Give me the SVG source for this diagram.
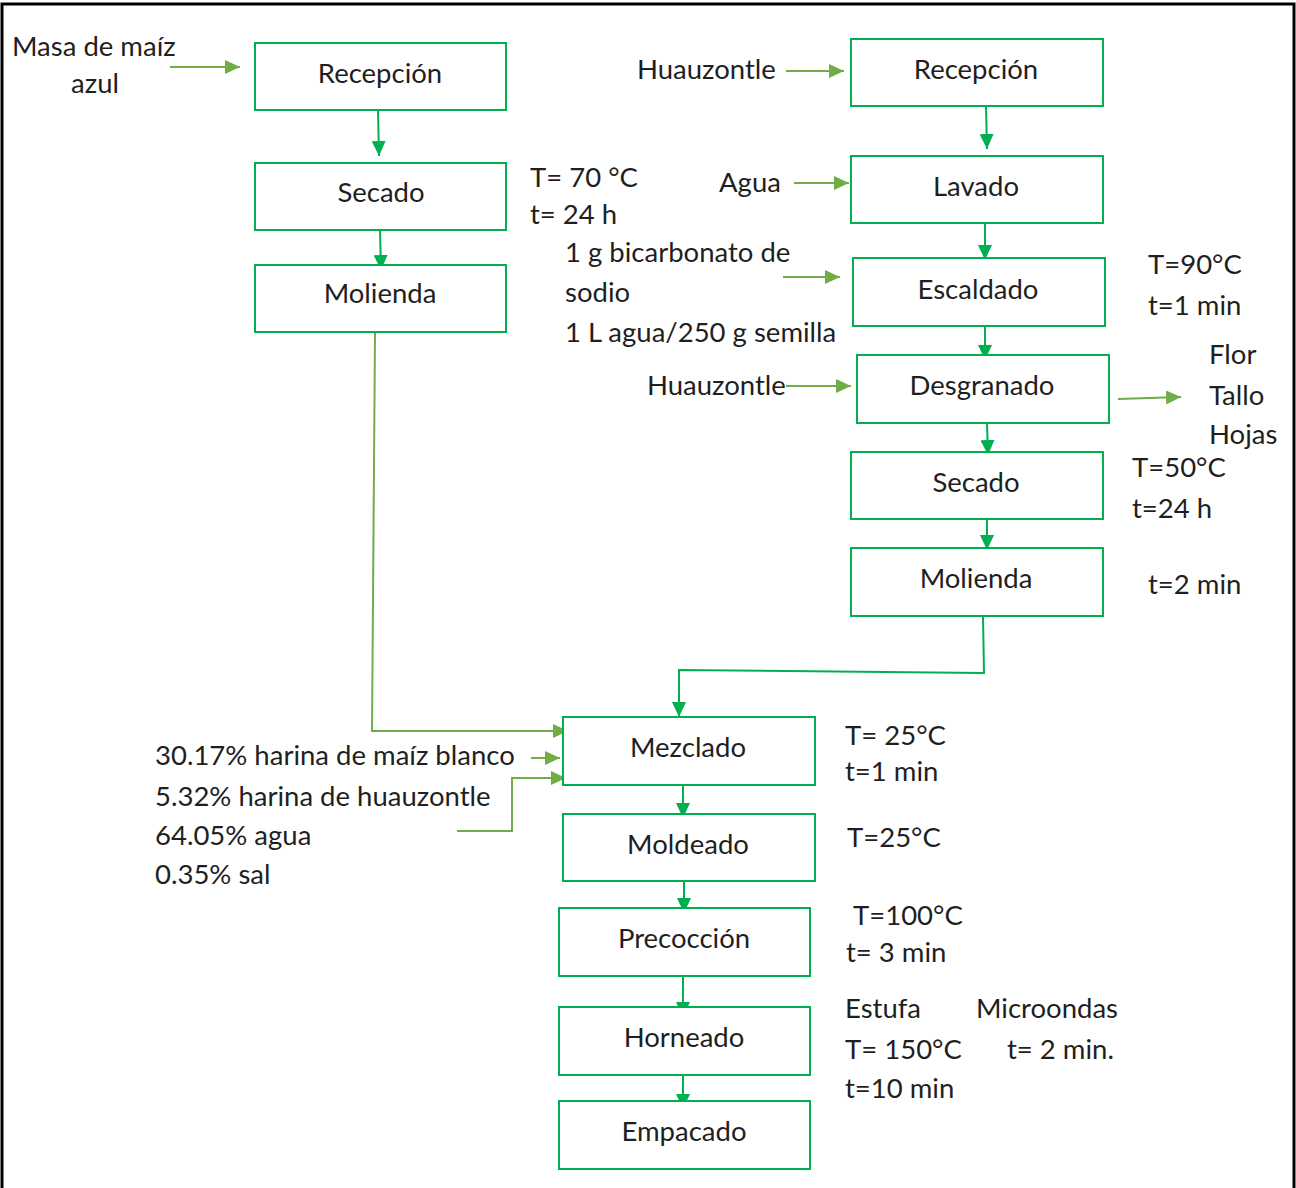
<svg xmlns="http://www.w3.org/2000/svg" width="1296" height="1188" viewBox="0 0 1296 1188">
  <defs>
    <style>
      .box { fill: #ffffff; stroke: #00B050; stroke-width: 2; }
      .lbl { font-family: Lato, "Liberation Sans", sans-serif; font-size: 27.5px; fill: #1f1f1f; }
      .mid { text-anchor: middle; }
      .flow { fill: none; stroke: #00B050; stroke-width: 2; marker-end: url(#headDark); }
      .feed { fill: none; stroke: #70AD47; stroke-width: 2; marker-end: url(#headLight); }
    </style>
    <marker id="headDark" markerUnits="userSpaceOnUse" markerWidth="16" markerHeight="14" refX="15" refY="7" orient="auto">
      <path d="M0,0 L15,7 L0,14 z" fill="#00B050"/>
    </marker>
    <marker id="headLight" markerUnits="userSpaceOnUse" markerWidth="16" markerHeight="14" refX="15" refY="7" orient="auto">
      <path d="M0,0 L15,7 L0,14 z" fill="#70AD47"/>
    </marker>
  </defs>

  <rect x="0" y="0" width="1296" height="1188" fill="#ffffff"/>
  <!-- outer frame -->
  <rect x="2" y="4" width="1292" height="1200" fill="none" stroke="#000000" stroke-width="3"/>

  <!-- connectors -->
  <g id="connectors">
    <!-- blue corn line -->
    <line class="flow" x1="378" y1="111" x2="379" y2="156"/>
    <line class="flow" x1="380" y1="231" x2="381" y2="270"/>
    <!-- huauzontle line -->
    <line class="flow" x1="986" y1="107" x2="987" y2="149"/>
    <line class="flow" x1="985" y1="224" x2="985" y2="260"/>
    <line class="flow" x1="985" y1="327" x2="985" y2="360"/>
    <line class="flow" x1="987" y1="424" x2="988" y2="455"/>
    <line class="flow" x1="987" y1="520" x2="987" y2="550"/>
    <polyline class="flow" points="983,617 984,673 679,670 679,717"/>
    <!-- bottom line -->
    <line class="flow" x1="683" y1="786" x2="683" y2="818"/>
    <line class="flow" x1="684" y1="882" x2="684" y2="913"/>
    <line class="flow" x1="683" y1="977" x2="683" y2="1017"/>
    <line class="flow" x1="683" y1="1076" x2="683" y2="1109"/>
    <!-- side feeds -->
    <line class="feed" x1="170" y1="67" x2="240" y2="67"/>
    <line class="feed" x1="786" y1="71" x2="844" y2="71"/>
    <line class="feed" x1="794" y1="183" x2="849" y2="183"/>
    <line class="feed" x1="783" y1="277" x2="840" y2="277"/>
    <line class="feed" x1="786" y1="386" x2="851" y2="386"/>
    <line class="feed" x1="1118" y1="399" x2="1181" y2="397"/>
    <polyline class="feed" points="375,333 372,731 568,731"/>
    <line class="feed" x1="531" y1="758" x2="560" y2="758"/>
    <polyline class="feed" points="457,831 512,831 512,778 566,778"/>
  </g>

  <!-- blue corn dough branch -->
  <g id="recepcion-masa"><rect class="box" x="255" y="43" width="251" height="67"/><text class="lbl mid" x="380" y="83">Recepción</text></g>
  <g id="secado-masa"><rect class="box" x="255" y="163" width="251" height="67"/><text class="lbl mid" x="381" y="202">Secado</text></g>
  <g id="molienda-masa"><rect class="box" x="255" y="265" width="251" height="67"/><text class="lbl mid" x="380" y="303">Molienda</text></g>

  <!-- huauzontle branch -->
  <g id="recepcion-huauzontle"><rect class="box" x="851" y="39" width="252" height="67"/><text class="lbl mid" x="976" y="79">Recepción</text></g>
  <g id="lavado"><rect class="box" x="851" y="156" width="252" height="67"/><text class="lbl mid" x="976" y="196">Lavado</text></g>
  <g id="escaldado"><rect class="box" x="853" y="258" width="252" height="68"/><text class="lbl mid" x="978" y="299">Escaldado</text></g>
  <g id="desgranado"><rect class="box" x="857" y="355" width="252" height="68"/><text class="lbl mid" x="982" y="395">Desgranado</text></g>
  <g id="secado-huauzontle"><rect class="box" x="851" y="452" width="252" height="67"/><text class="lbl mid" x="976" y="492">Secado</text></g>
  <g id="molienda-huauzontle"><rect class="box" x="851" y="548" width="252" height="68"/><text class="lbl mid" x="976" y="588">Molienda</text></g>

  <!-- final process -->
  <g id="mezclado"><rect class="box" x="563" y="717" width="252" height="68"/><text class="lbl mid" x="688" y="757">Mezclado</text></g>
  <g id="moldeado"><rect class="box" x="563" y="814" width="252" height="67"/><text class="lbl mid" x="688" y="854">Moldeado</text></g>
  <g id="precoccion"><rect class="box" x="559" y="908" width="251" height="68"/><text class="lbl mid" x="684" y="948">Precocción</text></g>
  <g id="horneado"><rect class="box" x="559" y="1007" width="251" height="68"/><text class="lbl mid" x="684" y="1047">Horneado</text></g>
  <g id="empacado"><rect class="box" x="559" y="1101" width="251" height="68"/><text class="lbl mid" x="684" y="1141">Empacado</text></g>

  <!-- inputs, outputs and conditions -->
  <g id="notes">
    <text class="lbl" x="12" y="56">Masa de maíz</text>
    <text class="lbl mid" x="95" y="93">azul</text>
    <text class="lbl" x="530" y="187">T= 70 °C</text>
    <text class="lbl" x="530" y="224">t= 24 h</text>
    <text class="lbl" x="565" y="262">1 g bicarbonato de</text>
    <text class="lbl" x="565" y="302">sodio</text>
    <text class="lbl" x="565" y="342">1 L agua/250 g semilla</text>
    <text class="lbl" x="637" y="79">Huauzontle</text>
    <text class="lbl" x="719" y="192">Agua</text>
    <text class="lbl" x="647" y="395">Huauzontle</text>
    <text class="lbl" x="1148" y="274">T=90°C</text>
    <text class="lbl" x="1148" y="315">t=1 min</text>
    <text class="lbl" x="1209" y="364">Flor</text>
    <text class="lbl" x="1209" y="405">Tallo</text>
    <text class="lbl" x="1209" y="444">Hojas</text>
    <text class="lbl" x="1132" y="477">T=50°C</text>
    <text class="lbl" x="1132" y="518">t=24 h</text>
    <text class="lbl" x="1148" y="594">t=2 min</text>
    <text class="lbl" x="155" y="765">30.17% harina de maíz blanco</text>
    <text class="lbl" x="155" y="806">5.32% harina de huauzontle</text>
    <text class="lbl" x="155" y="845">64.05% agua</text>
    <text class="lbl" x="155" y="884">0.35% sal</text>
    <text class="lbl" x="845" y="745">T= 25°C</text>
    <text class="lbl" x="845" y="781">t=1 min</text>
    <text class="lbl" x="847" y="847">T=25°C</text>
    <text class="lbl" x="853" y="925">T=100°C</text>
    <text class="lbl" x="846" y="962">t= 3 min</text>
    <text class="lbl" x="845" y="1018">Estufa</text>
    <text class="lbl" x="976" y="1018">Microondas</text>
    <text class="lbl" x="845" y="1059">T= 150°C</text>
    <text class="lbl" x="1007" y="1059">t= 2 min.</text>
    <text class="lbl" x="845" y="1098">t=10 min</text>
  </g>
</svg>
